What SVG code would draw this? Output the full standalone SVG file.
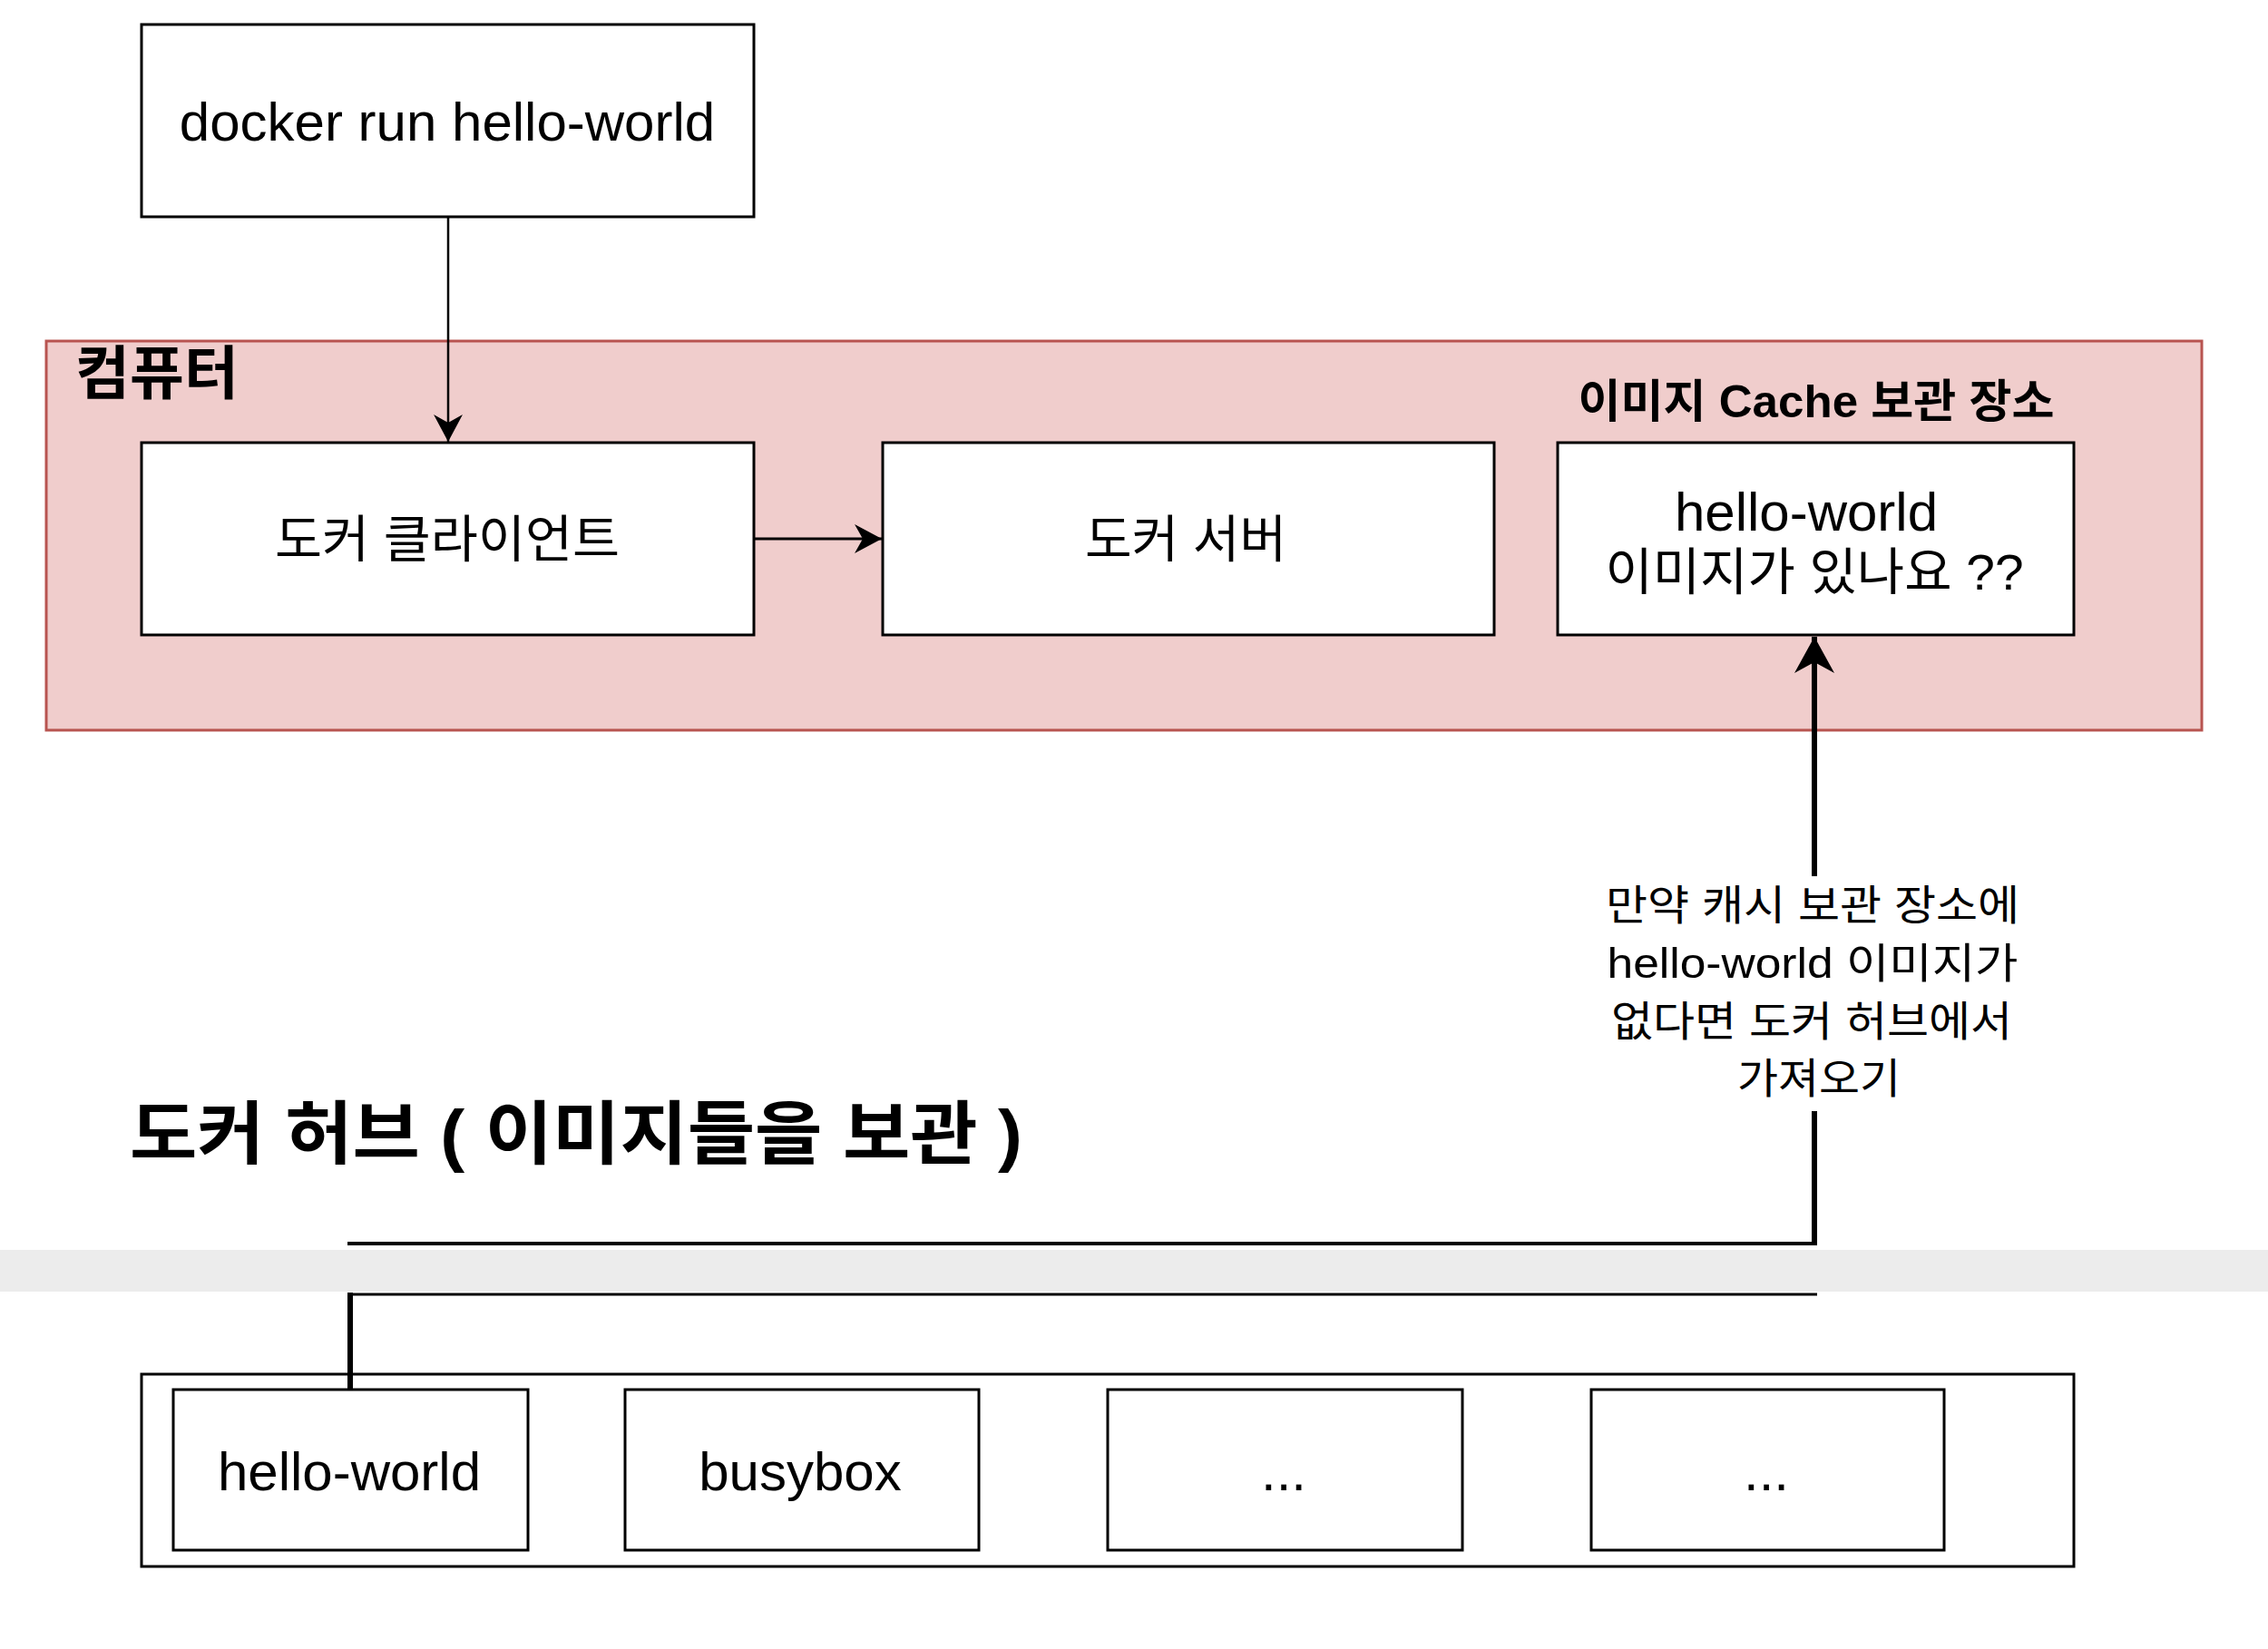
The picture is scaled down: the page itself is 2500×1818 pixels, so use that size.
<svg xmlns="http://www.w3.org/2000/svg" width="2500" height="1818" viewBox="0 0 2500 1818">
<defs>
<style>
.box{fill:#ffffff;stroke:#000000;stroke-width:3}
.t{font-family:"Liberation Sans","Noto Sans CJK KR",sans-serif;fill:#000000;text-anchor:middle}
.b{font-weight:bold}
.ln{fill:none;stroke:#000000}
</style>
<marker id="arrowThin" viewBox="0 0 32 34" refX="30" refY="17" markerWidth="32" markerHeight="34" markerUnits="userSpaceOnUse" orient="auto">
<path d="M0,1 L30,17 L0,33 L9,17 Z" fill="#000000"/>
</marker>
<marker id="arrowThick" viewBox="0 0 42 46" refX="40" refY="23" markerWidth="42" markerHeight="46" markerUnits="userSpaceOnUse" orient="auto">
<path d="M0,1 L40,23 L0,45 L12,23 Z" fill="#000000"/>
</marker>
</defs>
<rect x="0" y="0" width="2500" height="1818" fill="#ffffff"/>

<g id="band">
<rect x="0" y="1378" width="2500" height="46" fill="#ececec"/>
</g>

<g id="computer">
<rect x="51" y="376" width="2376" height="429" fill="#f0cdcc" stroke="#b85450" stroke-width="3"/>
<text class="t b" x="173" y="434" font-size="64" textLength="180" lengthAdjust="spacingAndGlyphs">컴퓨터</text>
</g>

<g id="cache-title">
<text class="t b" x="2002" y="460" font-size="50" textLength="525" lengthAdjust="spacingAndGlyphs">이미지 Cache 보관 장소</text>
</g>

<g id="cmd">
<rect class="box" x="156" y="27" width="675" height="212"/>
<text class="t" x="493" y="155" font-size="60">docker run hello-world</text>
</g>

<g id="client">
<rect class="box" x="156" y="488" width="675" height="212"/>
<text class="t" x="493" y="614" font-size="56" textLength="380" lengthAdjust="spacingAndGlyphs">도커 클라이언트</text>
</g>

<g id="server">
<rect class="box" x="973" y="488" width="674" height="212"/>
<text class="t" x="1307" y="614" font-size="56" textLength="222" lengthAdjust="spacingAndGlyphs">도커 서버</text>
</g>

<g id="cache">
<rect class="box" x="1717" y="488" width="569" height="212"/>
<text class="t" x="1991" y="585" font-size="60">hello-world</text>
<text class="t" x="2000" y="650" font-size="56" textLength="461" lengthAdjust="spacingAndGlyphs">이미지가 있나요 ??</text>
</g>

<g id="hub-title">
<text class="t b" x="635" y="1277" font-size="76" textLength="984" lengthAdjust="spacingAndGlyphs">도커 허브 ( 이미지들을 보관 )</text>
</g>

<g id="hub">
<rect class="box" x="156" y="1515" width="2130" height="212"/>
</g>
<g id="hub-hello">
<rect class="box" x="191" y="1532" width="391" height="177"/>
<text class="t" x="385" y="1643" font-size="60">hello-world</text>
</g>
<g id="hub-busybox">
<rect class="box" x="689" y="1532" width="390" height="177"/>
<text class="t" x="882" y="1643" font-size="60">busybox</text>
</g>
<g id="hub-etc1">
<rect class="box" x="1221" y="1532" width="391" height="177"/>
<text class="t" x="1415" y="1643" font-size="60">...</text>
</g>
<g id="hub-etc2">
<rect class="box" x="1754" y="1532" width="389" height="177"/>
<text class="t" x="1947" y="1643" font-size="60">...</text>
</g>

<g id="connectors">
<path class="ln" d="M494,239 L494,487" stroke-width="2.5" marker-end="url(#arrowThin)"/>
<path class="ln" d="M831,594 L972,594" stroke-width="3" marker-end="url(#arrowThin)"/>
<path class="ln" d="M2000,1373 L2000,702" stroke-width="6" marker-end="url(#arrowThick)"/>
<path class="ln" d="M383,1371 L2003,1371" stroke-width="4"/>
<path class="ln" d="M386,1532 L386,1425" stroke-width="6"/>
<path class="ln" d="M383,1427 L2003,1427" stroke-width="3"/>
</g>

<g id="fetch-label">
<rect x="1760" y="966" width="480" height="259" fill="#ffffff"/>
<text class="t" x="1998" y="1014" font-size="46" textLength="456" lengthAdjust="spacingAndGlyphs">만약 캐시 보관 장소에</text>
<text class="t" x="1998" y="1078" font-size="46" textLength="453" lengthAdjust="spacingAndGlyphs">hello-world 이미지가</text>
<text class="t" x="1997" y="1142" font-size="46" textLength="442" lengthAdjust="spacingAndGlyphs">없다면 도커 허브에서</text>
<text class="t" x="2005" y="1205" font-size="46" textLength="180" lengthAdjust="spacingAndGlyphs">가져오기</text>
</g>
</svg>
